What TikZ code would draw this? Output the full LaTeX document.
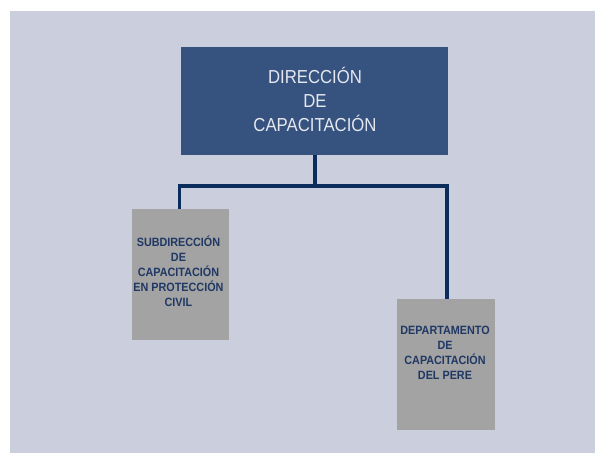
\documentclass[tikz,border=0pt]{standalone}
\usepackage{fontspec}
\setmainfont{Liberation Sans}
\newfontfamily\topfont[FakeStretch=0.89]{Liberation Sans}
\newfontfamily\smallfont[FakeStretch=0.9]{Liberation Sans}
\definecolor{bgcol}{HTML}{CBCEDD}
\definecolor{topcol}{HTML}{36527E}
\definecolor{graycol}{HTML}{A3A3A3}
\definecolor{linecol}{HTML}{0B2D5E}
\definecolor{smalltext}{HTML}{1F3864}
\definecolor{toptext}{HTML}{E6E8F0}
\tikzset{
  topbox/.style={fill=topcol, draw=none, minimum width=267pt, minimum height=108pt, inner sep=0pt},
  graybox/.style={fill=graycol, draw=none, minimum width=97.5pt, minimum height=131pt, inner sep=0pt},
  toplabel/.style={align=center, text=toptext, font=\topfont\fontsize{18.8}{24}\selectfont, inner sep=0pt},
  smalllabel/.style={align=center, text=smalltext, font=\smallfont\bfseries\fontsize{12}{15.2}\selectfont, inner sep=0pt},
  conn/.style={draw=linecol, line width=3.5pt, line join=miter}
}
\begin{document}
\begin{tikzpicture}[x=1pt,y=1pt]
\useasboundingbox (0,0) rectangle (595,454);
\fill[bgcol] (10,1) rectangle (595,443);
\node[topbox] (top) at (314.5,353) {};
\node[graybox] (lbox) at (180.5,179.5) {};
\node[graybox] (rbox) at (446,89.5) {};
\coordinate (bus) at (315,268);
\draw[conn] (top.south -| bus) -- (bus);
\draw[conn] ([xshift=-1pt]lbox.north) |- (bus) -| ([xshift=1pt]rbox.north);
\node[toplabel] (toptxt) at (315,354.3) {DIRECCIÓN\\DE\\CAPACITACIÓN};
\node[smalllabel] (ltxt) at (178.5,182.7) {SUBDIRECCIÓN\\DE\\CAPACITACIÓN\\EN PROTECCIÓN\\CIVIL};
\node[smalllabel] (rtxt) at (445,101) {DEPARTAMENTO\\DE\\CAPACITACIÓN\\DEL PERE};
\end{tikzpicture}
\end{document}
